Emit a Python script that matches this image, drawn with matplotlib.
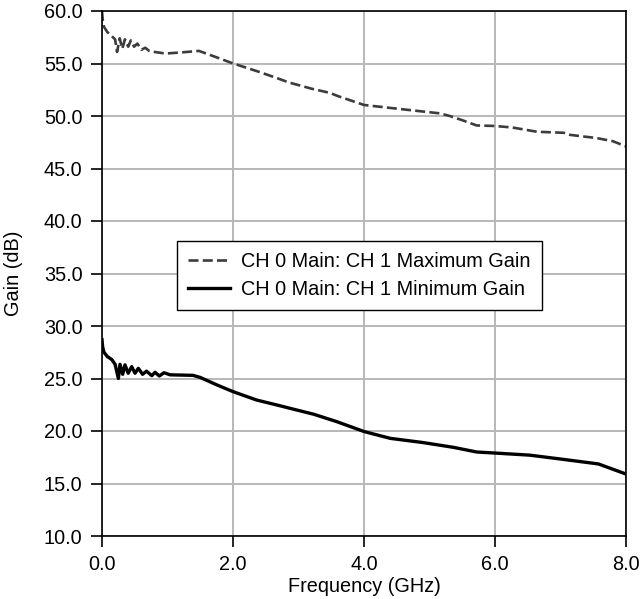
import matplotlib
matplotlib.use("Agg")
import matplotlib.pyplot as plt

plt.rcParams['font.family'] = ['Liberation Sans', 'DejaVu Sans']

freq_max = [0.0, 0.01, 0.03, 0.08, 0.15, 0.2, 0.23, 0.27, 0.31, 0.35, 0.40, 0.44, 0.49, 0.54,
            0.6, 0.66, 0.72, 0.8, 0.97, 1.2, 1.48, 1.7, 1.98, 2.4, 2.72, 2.85, 3.2, 3.48, 3.6,
            4.0, 4.5, 5.16, 5.31, 5.5, 5.72, 6.0, 6.27, 6.64, 7.05, 7.15, 7.55, 7.8, 8.0]
gain_max = [60.0, 59.2, 58.5, 58.0, 57.6, 57.3, 56.1, 57.4, 56.4, 57.3, 56.6, 57.2, 56.6, 56.9,
            56.3, 56.5, 56.2, 56.1, 55.95, 56.05, 56.2, 55.7, 55.05, 54.2, 53.5, 53.2, 52.6, 52.2, 51.9,
            51.05, 50.7, 50.25, 50.0, 49.6, 49.1, 49.05, 48.9, 48.5, 48.4, 48.2, 47.9, 47.6, 47.1]

freq_min = [0.0, 0.01, 0.03, 0.08, 0.15, 0.2, 0.25, 0.275, 0.316, 0.351, 0.40, 0.453, 0.504,
            0.555, 0.62, 0.68, 0.76, 0.81, 0.875, 0.947, 1.04, 1.39, 1.5, 1.75, 2.0, 2.36, 2.72,
            2.87, 3.23, 3.58, 4.0, 4.4, 4.9, 5.36, 5.72, 6.0, 6.53, 7.04, 7.58, 8.0]
gain_min = [28.7, 28.0, 27.5, 27.1, 26.8, 26.35, 25.0, 26.35, 25.4, 26.3, 25.5, 26.13, 25.5,
            25.97, 25.4, 25.7, 25.27, 25.59, 25.24, 25.55, 25.35, 25.3, 25.1, 24.4, 23.75, 22.95, 22.4,
            22.16, 21.6, 20.9, 19.95, 19.3, 18.9, 18.45, 18.0, 17.9, 17.7, 17.3, 16.86, 15.9]

x_ticks = [0.0, 2.0, 4.0, 6.0, 8.0]
y_ticks = [10.0, 15.0, 20.0, 25.0, 30.0, 35.0, 40.0, 45.0, 50.0, 55.0, 60.0]
label_max = "CH 0 Main: CH 1 Maximum Gain"
label_min = "CH 0 Main: CH 1 Minimum Gain"

FS = 14.3

fig = plt.figure(figsize=(6.42, 5.99), dpi=100)
ax = fig.add_axes([102/642, 1 - 536/599, 524/642, 525/599])

ax.plot(freq_max, gain_max, color='#3c3c3c', lw=1.9, linestyle=(0, (3.8, 1.6)), label=label_max)
ax.plot(freq_min, gain_min, color='black', lw=2.4, label=label_min)

ax.set_xlim(0, 8)
ax.set_ylim(10, 60)
ax.set_xticks(x_ticks)
ax.set_yticks(y_ticks)
ax.set_xticklabels([f"{v:.1f}" for v in x_ticks])
ax.set_yticklabels([f"{v:.1f}" for v in y_ticks])
ax.grid(True, color='#b8b8b8', lw=1.4)
ax.set_axisbelow(True)
ax.tick_params(direction='out', length=8, width=1.2, labelsize=FS, pad=6, colors='black')
for s in ax.spines.values():
    s.set_linewidth(1.2)
    s.set_color('black')

ax.set_xlabel("Frequency (GHz)", fontsize=FS, labelpad=2)
ax.set_ylabel("Gain (dB)", fontsize=FS, labelpad=15)

leg = ax.legend(loc='upper left', bbox_to_anchor=(0.143, 0.562), borderaxespad=0,
                fontsize=FS, frameon=True, fancybox=False, edgecolor='black',
                handlelength=2.1, handletextpad=0.6, borderpad=0.55, labelspacing=0.48)
leg.get_frame().set_linewidth(1.0)
leg.get_frame().set_alpha(1)

fig.savefig("out.png", dpi=100)
